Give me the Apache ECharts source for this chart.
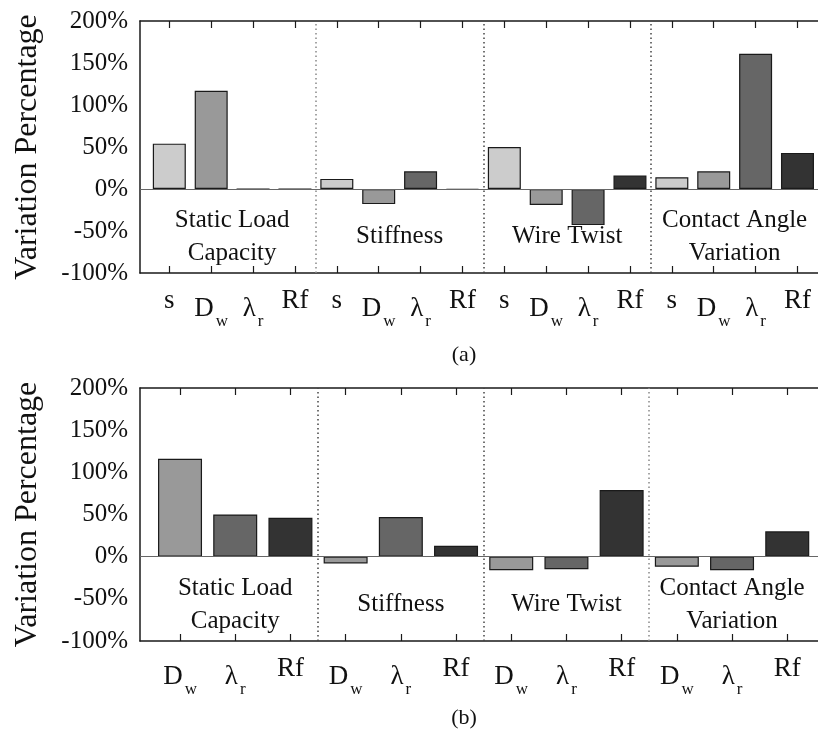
<!DOCTYPE html>
<html>
<head>
<meta charset="utf-8">
<script src="https://cdn.jsdelivr.net/npm/echarts@6/dist/echarts.min.js"></script>
<style>
html, body { margin: 0; padding: 0; background: #fff; }
#chart { width: 818px; height: 731px; }
</style>
</head>
<body>
<div id="chart"></div>
<script>
// Response groups shared by both panels
const groups = ['Static Load\nCapacity', 'Stiffness', 'Wire Twist', 'Contact Angle\nVariation'];
const yTicks = [-100, -50, 0, 50, 100, 150, 200];

// Panel (a): variation per parameter, one value per group
const paramsA = ['s', 'Dw', 'lr', 'Rf'];
const sA  = [54, 12, 50, 14];
const dwA = [117, -18, -19, 21];
const lrA = [0, 21, -43, 161];
const rfA = [0, -1, 16, 43];

// Panel (b)
const paramsB = ['Dw', 'lr', 'Rf'];
const dwB = [116, -8, -16, -12];
const lrB = [50, 47, -15, -16];
const rfB = [46, 13, 79, 30];

// Height (in %) at which group names are written inside the plot
const groupLabelY = -57;

const paramColor = { s: '#cccccc', Dw: '#999999', lr: '#666666', Rf: '#333333' };
const paramText = { s: 's', Dw: 'D{sub|w}', lr: '\u03bb{sub|r}', Rf: 'Rf' };
const FONT = 'Liberation Serif';
const INK = '#111';

function panel(idx, params, values, barWidth, xMin, xMax, sepColors) {
  const n = params.length;
  const positions = [];
  for (let i = 0; i < groups.length * n; i++) positions.push(i);
  const tickLabel = v => paramText[params[Math.round(v) % n]];

  const xBase = {
    type: 'value', gridIndex: idx, min: xMin, max: xMax,
    splitLine: { show: false },
    axisLine: { show: true, onZero: false, lineStyle: { color: '#1a1a1a', width: 1.5 } },
    axisTick: { show: true, inside: true, length: 7, customValues: positions,
                lineStyle: { color: '#1a1a1a', width: 1.2 } }
  };
  const xAxes = [
    Object.assign({}, xBase, {
      position: 'bottom',
      axisLabel: {
        show: true, customValues: positions, formatter: tickLabel,
        fontFamily: FONT, fontSize: 27, color: INK, margin: 14,
        rich: { sub: { fontFamily: FONT, fontSize: 17, color: INK, padding: [26, 0, 0, 2] } }
      }
    }),
    Object.assign({}, xBase, { position: 'top', axisLabel: { show: false } })
  ];

  const yAxis = {
    type: 'value', gridIndex: idx, min: yTicks[0], max: yTicks[yTicks.length - 1], interval: 50,
    splitLine: { show: false },
    axisTick: { show: false },
    axisLine: { show: true, onZero: false, lineStyle: { color: '#1a1a1a', width: 1.5 } },
    axisLabel: { formatter: '{value}%', fontFamily: FONT, fontSize: 25, color: INK, margin: 12 },
    name: 'Variation Percentage', nameLocation: 'middle', nameGap: 96,
    nameTextStyle: { fontFamily: FONT, fontSize: 32, color: INK }
  };

  const series = params.map((p, j) => ({
    type: 'bar', name: p, xAxisIndex: idx * 2, yAxisIndex: idx,
    barWidth: barWidth, barGap: '-100%', z: 3,
    itemStyle: { color: paramColor[p], borderColor: '#1a1a1a', borderWidth: 1.2 },
    data: values[j].map((v, g) => [g * n + j, v])
  }));

  // group names, zero line and dotted group separators
  series.push({
    type: 'scatter', xAxisIndex: idx * 2, yAxisIndex: idx, symbolSize: 0, z: 2,
    itemStyle: { opacity: 1 },
    data: groups.map((name, g) => ({ name: name, value: [g * n + (n - 1) / 2, groupLabelY] })),
    label: { show: true, position: 'inside', formatter: '{b}', fontFamily: FONT,
             fontSize: 25, lineHeight: 33, color: INK, opacity: 1, textBorderWidth: 0 },
    markLine: {
      silent: true, symbol: 'none', label: { show: false },
      data: [
        { yAxis: 0, lineStyle: { color: '#666', width: 1.2, type: 'solid' } }
      ].concat(groups.slice(1).map((_, g) => ({
        xAxis: (g + 1) * n - 0.5,
        lineStyle: { color: sepColors[g], width: 1.5, type: [1.5, 3] }
      })))
    }
  });

  return { xAxes, yAxis, series };
}

const a = panel(0, paramsA, [sA, dwA, lrA, rfA], 33, -0.7, 15.49, ['#888', '#444', '#444']);
const b = panel(1, paramsB, [dwB, lrB, rfB], 44, -0.725, 11.557, ['#444', '#444', '#888']);

const chart = echarts.init(document.getElementById('chart'), null, { renderer: 'canvas' });
chart.setOption({
  animation: false,
  backgroundColor: '#fff',
  title: [
    { text: '(a)', left: 459, top: 339, textAlign: 'center',
      textStyle: { fontFamily: FONT, fontSize: 22, fontWeight: 'normal', color: INK } },
    { text: '(b)', left: 459, top: 702, textAlign: 'center',
      textStyle: { fontFamily: FONT, fontSize: 22, fontWeight: 'normal', color: INK } }
  ],
  grid: [
    { left: 140, top: 21, right: -2, height: 252 },
    { left: 140, top: 388, right: -2, height: 253 }
  ],
  xAxis: a.xAxes.concat(b.xAxes),
  yAxis: [a.yAxis, b.yAxis],
  series: a.series.concat(b.series)
});
</script>
</body>
</html>
